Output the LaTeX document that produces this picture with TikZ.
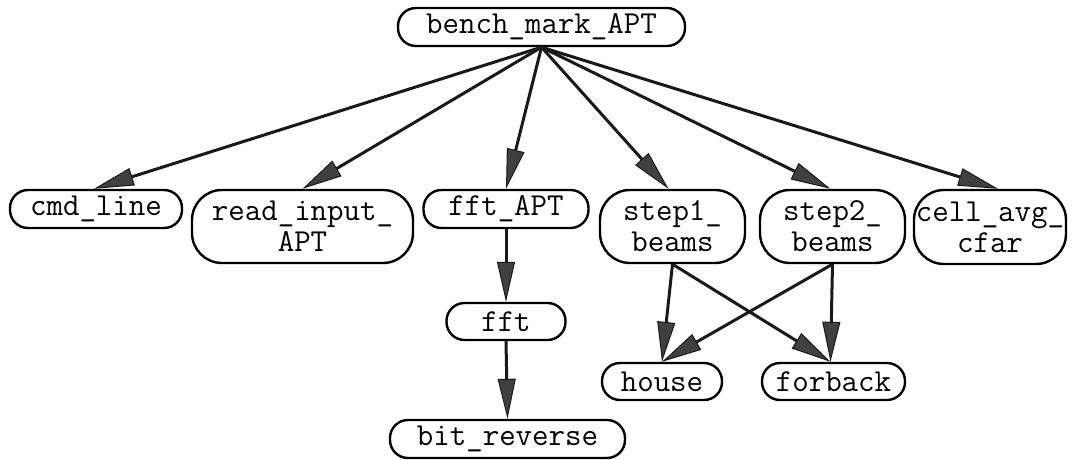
\documentclass[tikz,border=0pt]{standalone}
\usetikzlibrary{arrows.meta}
\begin{document}
\begin{tikzpicture}[x=1pt,y=-1pt,
  box/.style={draw=black,line width=2.4pt,rounded corners=18pt,inner sep=0pt,
    align=center,font=\fontsize{32}{31}\selectfont\ttfamily},
  tall/.style={box,rounded corners=30pt},
  edge/.style={line width=3pt,draw=black!90,
    -{Triangle[length=40pt,width=18pt,fill=black!75,line width=1pt]}}]
\useasboundingbox (0,0) rectangle (1077,460);
\node[box,minimum width=287pt,minimum height=38pt] (bm) at (541.5,27) {bench\_mark\_APT};
\node[box,minimum width=172pt,minimum height=38pt] (cmd) at (96,209) {cmd\_line};
\node[tall,minimum width=221pt,minimum height=73pt] (rin) at (302.5,226.5) {read\_input\_\\APT};
\node[box,minimum width=165pt,minimum height=38pt] (fa) at (506,209) {fft\_APT};
\node[tall,minimum width=145pt,minimum height=73pt] (s1) at (672.5,226.5) {step1\_\\beams};
\node[tall,minimum width=145pt,minimum height=73pt] (s2) at (832.5,226.5) {step2\_\\beams};
\node[tall,minimum width=152pt,minimum height=74pt] (cell) at (990,227) {cell\_avg\_\\cfar};
\node[box,minimum width=119pt,minimum height=37pt] (fft) at (506,321.5) {fft};
\node[box,minimum width=235pt,minimum height=38pt] (bit) at (507.5,439) {bit\_reverse};
\node[box,minimum width=120pt,minimum height=37pt] (house) at (662,381.5) {house};
\node[box,minimum width=143pt,minimum height=37pt] (fb) at (833.5,381.5) {forback};
\foreach \t/\dx in {cmd/-2,rin/0,fa/0,s1/-4,s2/-2,cell/8}
  \draw[edge] (bm.south) -- ([xshift=\dx pt]\t.north);
\draw[edge] (fa.south) -- (fft.north);
\draw[edge] (fft.south) -- (bit.north);
\draw[edge] (s1.south) -- (house.north);
\draw[edge] (s1.south) -- ([xshift=-3pt]fb.north);
\draw[edge] (s2.south) -- (house.north);
\draw[edge] (s2.south) -- ([xshift=-3pt]fb.north);
\end{tikzpicture}
\end{document}
